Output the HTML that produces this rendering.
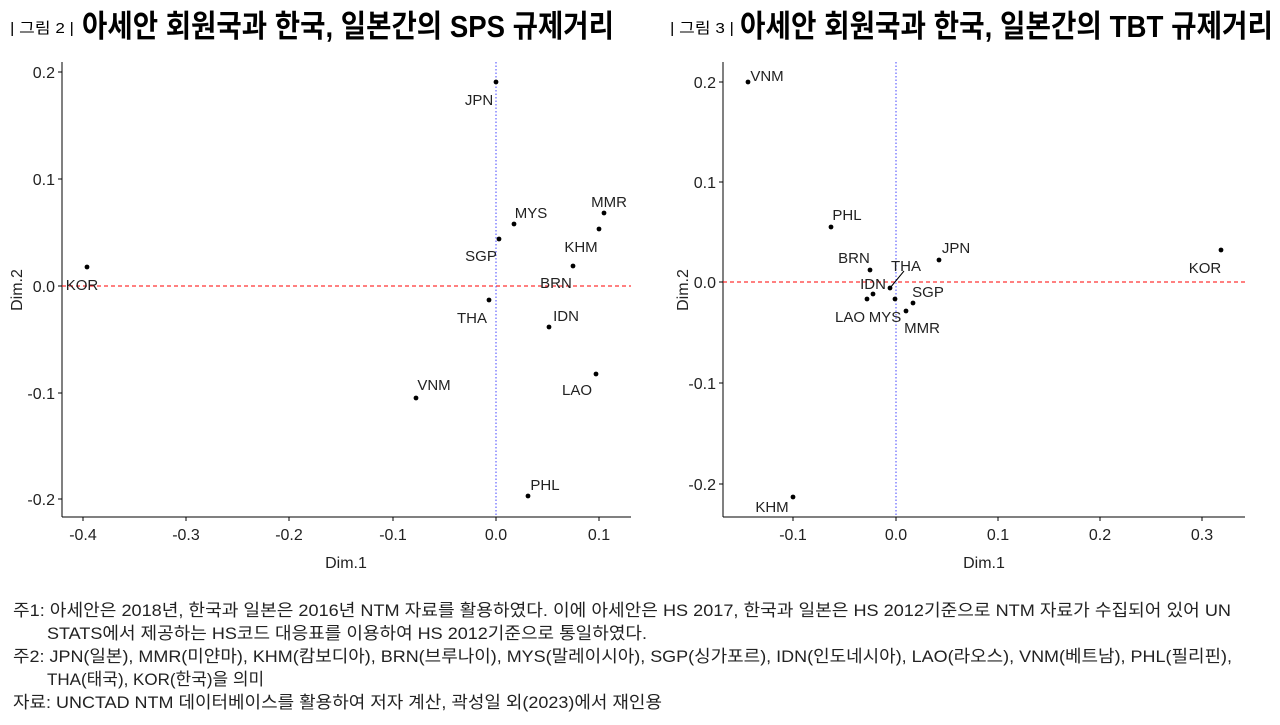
<!DOCTYPE html>
<html><head><meta charset="utf-8"><style>
body{margin:0;background:#fff;width:1280px;height:720px;overflow:hidden}
svg text{font-family:"Liberation Sans","Noto Sans CJK KR",sans-serif}
</style></head><body>
<svg width="1280" height="720" viewBox="0 0 1280 720" xmlns="http://www.w3.org/2000/svg">
<text x="10" y="33" font-size="15" textLength="64" lengthAdjust="spacingAndGlyphs">| 그림 2 |</text>
<text x="82" y="37" font-size="31" font-weight="bold" textLength="532" lengthAdjust="spacingAndGlyphs">아세안 회원국과 한국, 일본간의 SPS 규제거리</text>
<text x="670" y="33" font-size="15" textLength="64" lengthAdjust="spacingAndGlyphs">| 그림 3 |</text>
<text x="740" y="37" font-size="31" font-weight="bold" textLength="533" lengthAdjust="spacingAndGlyphs">아세안 회원국과 한국, 일본간의 TBT 규제거리</text>

<g font-size="16" fill="#222">
<line x1="62" y1="62" x2="62" y2="517" stroke="#000"/>
<line x1="62" y1="517" x2="631" y2="517" stroke="#000"/>
<line x1="62" y1="286" x2="631" y2="286" stroke="#f00" stroke-dasharray="4,3"/>
<line x1="496" y1="62" x2="496" y2="517" stroke="#44f" stroke-dasharray="1.5,2"/>
<g stroke="#000"><line x1="58" y1="72" x2="62" y2="72"/><line x1="58" y1="179" x2="62" y2="179"/><line x1="58" y1="286" x2="62" y2="286"/><line x1="58" y1="393" x2="62" y2="393"/><line x1="58" y1="499" x2="62" y2="499"/>
<line x1="83" y1="517" x2="83" y2="521"/><line x1="186" y1="517" x2="186" y2="521"/><line x1="289" y1="517" x2="289" y2="521"/><line x1="393" y1="517" x2="393" y2="521"/><line x1="496" y1="517" x2="496" y2="521"/><line x1="599" y1="517" x2="599" y2="521"/></g>
<g text-anchor="end"><text x="55" y="78">0.2</text><text x="55" y="185">0.1</text><text x="55" y="292">0.0</text><text x="55" y="399">-0.1</text><text x="55" y="505">-0.2</text></g>
<g text-anchor="middle"><text x="83" y="540">-0.4</text><text x="186" y="540">-0.3</text><text x="289" y="540">-0.2</text><text x="393" y="540">-0.1</text><text x="496" y="540">0.0</text><text x="599" y="540">0.1</text>
<text x="346" y="568">Dim.1</text></g>
<text transform="translate(22,290) rotate(-90)" text-anchor="middle">Dim.2</text>
<g fill="#000"><circle cx="496" cy="82" r="2.4"/><circle cx="514" cy="224" r="2.4"/><circle cx="604" cy="213" r="2.4"/><circle cx="599" cy="229" r="2.4"/><circle cx="499" cy="239" r="2.4"/><circle cx="573" cy="266" r="2.4"/><circle cx="87" cy="267" r="2.4"/><circle cx="489" cy="300" r="2.4"/><circle cx="549" cy="327" r="2.4"/><circle cx="596" cy="374" r="2.4"/><circle cx="416" cy="398" r="2.4"/><circle cx="528" cy="496" r="2.4"/></g>
<g text-anchor="middle" font-size="15"><text x="479" y="105">JPN</text><text x="531" y="218">MYS</text><text x="609" y="207">MMR</text><text x="481" y="261">SGP</text><text x="581" y="252">KHM</text><text x="556" y="288">BRN</text><text x="82" y="290">KOR</text><text x="472" y="323">THA</text><text x="566" y="321">IDN</text><text x="577" y="395">LAO</text><text x="434" y="390">VNM</text><text x="545" y="490">PHL</text></g>
</g>

<g font-size="16" fill="#222">
<line x1="723" y1="62" x2="723" y2="517" stroke="#000"/>
<line x1="723" y1="517" x2="1245" y2="517" stroke="#000"/>
<line x1="723" y1="282" x2="1245" y2="282" stroke="#f00" stroke-dasharray="4,3"/>
<line x1="896" y1="62" x2="896" y2="517" stroke="#44f" stroke-dasharray="1.5,2"/>
<g stroke="#000"><line x1="719" y1="82" x2="723" y2="82"/><line x1="719" y1="182" x2="723" y2="182"/><line x1="719" y1="282" x2="723" y2="282"/><line x1="719" y1="383" x2="723" y2="383"/><line x1="719" y1="484" x2="723" y2="484"/>
<line x1="793" y1="517" x2="793" y2="521"/><line x1="896" y1="517" x2="896" y2="521"/><line x1="998" y1="517" x2="998" y2="521"/><line x1="1100" y1="517" x2="1100" y2="521"/><line x1="1202" y1="517" x2="1202" y2="521"/></g>
<g text-anchor="end"><text x="716" y="88">0.2</text><text x="716" y="188">0.1</text><text x="716" y="288">0.0</text><text x="716" y="389">-0.1</text><text x="716" y="490">-0.2</text></g>
<g text-anchor="middle"><text x="793" y="540">-0.1</text><text x="896" y="540">0.0</text><text x="998" y="540">0.1</text><text x="1100" y="540">0.2</text><text x="1202" y="540">0.3</text>
<text x="984" y="568">Dim.1</text></g>
<text transform="translate(688,290) rotate(-90)" text-anchor="middle">Dim.2</text>
<line x1="890" y1="288" x2="904" y2="271" stroke="#000"/>
<g fill="#000"><circle cx="748" cy="82" r="2.4"/><circle cx="831" cy="227" r="2.4"/><circle cx="870" cy="270" r="2.4"/><circle cx="890" cy="288" r="2.4"/><circle cx="939" cy="260" r="2.4"/><circle cx="1221" cy="250" r="2.4"/><circle cx="873" cy="294" r="2.4"/><circle cx="867" cy="299" r="2.4"/><circle cx="895" cy="299" r="2.4"/><circle cx="913" cy="303" r="2.4"/><circle cx="906" cy="311" r="2.4"/><circle cx="793" cy="497" r="2.4"/></g>
<g text-anchor="middle" font-size="15"><text x="767" y="81">VNM</text><text x="847" y="220">PHL</text><text x="854" y="263">BRN</text><text x="906" y="271">THA</text><text x="956" y="253">JPN</text><text x="1205" y="273">KOR</text><text x="873" y="289">IDN</text><text x="850" y="322">LAO</text><text x="928" y="297">SGP</text><text x="885" y="322">MYS</text><text x="922" y="333">MMR</text><text x="772" y="512">KHM</text></g>
</g>

<g font-size="17" fill="#222">
<text x="13" y="616" textLength="1218" lengthAdjust="spacingAndGlyphs">주1: 아세안은 2018년, 한국과 일본은 2016년 NTM 자료를 활용하였다. 이에 아세안은 HS 2017, 한국과 일본은 HS 2012기준으로 NTM 자료가 수집되어 있어 UN</text>
<text x="47" y="639" textLength="600" lengthAdjust="spacingAndGlyphs">STATS에서 제공하는 HS코드 대응표를 이용하여 HS 2012기준으로 통일하였다.</text>
<text x="13" y="662" textLength="1219" lengthAdjust="spacingAndGlyphs">주2: JPN(일본), MMR(미얀마), KHM(캄보디아), BRN(브루나이), MYS(말레이시아), SGP(싱가포르), IDN(인도네시아), LAO(라오스), VNM(베트남), PHL(필리핀),</text>
<text x="47" y="685">THA(태국), KOR(한국)을 의미</text>
<text x="13" y="708" textLength="649" lengthAdjust="spacingAndGlyphs">자료: UNCTAD NTM 데이터베이스를 활용하여 저자 계산, 곽성일 외(2023)에서 재인용</text>
</g>
</svg>
</body></html>
